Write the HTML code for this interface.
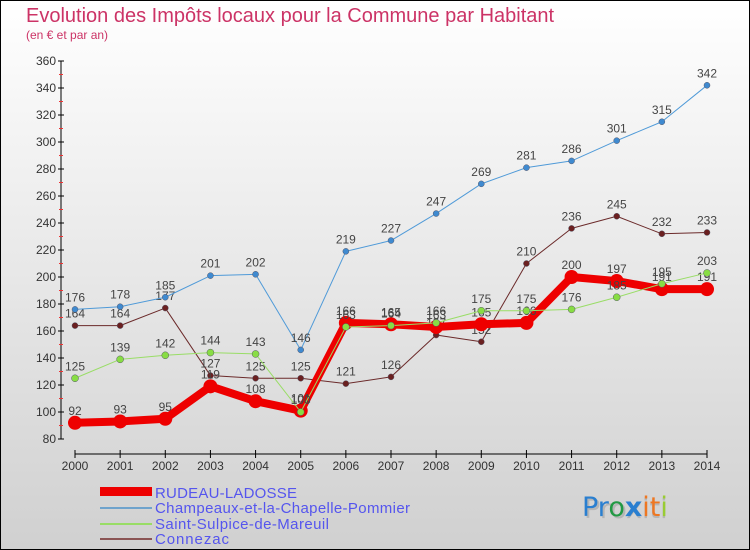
<!DOCTYPE html>
<html><head><meta charset="utf-8"><style>
body{margin:0;}
#c{width:750px;height:550px;position:relative;overflow:hidden;}
svg{display:block;font-family:"Liberation Sans","DejaVu Sans",sans-serif;}
</style></head><body>
<div id="c">
<svg id="s" width="750" height="550" xmlns="http://www.w3.org/2000/svg">
<defs><linearGradient id="bg" x1="0" y1="0" x2="0" y2="1"><stop offset="0" stop-color="#ffffff"/><stop offset="1" stop-color="#d0d0d0"/></linearGradient></defs>
<rect x="0.5" y="0.5" width="749" height="549" fill="url(#bg)" stroke="#000"/>
<text x="26" y="22" font-size="20" fill="#cc3366">Evolution des Impôts locaux pour la Commune par Habitant</text>
<text x="26" y="39" font-size="12" fill="#cc3366">(en € et par an)</text>
<g id="axes"></g><g id="series"></g>
<g>
<rect x="100" y="487" width="52" height="9" fill="#ee0000"/>
<rect x="100" y="507" width="52" height="2" fill="#6fa3cc"/>
<rect x="100" y="523" width="52" height="2" fill="#99dd66"/>
<rect x="100" y="538" width="52" height="2" fill="#8b5555"/>
<g font-size="15" fill="#5555ee">
<text x="155" y="498" textLength="142">RUDEAU-LADOSSE</text>
<text x="155" y="513" textLength="255">Champeaux-et-la-Chapelle-Pommier</text>
<text x="155" y="529" textLength="174">Saint-Sulpice-de-Mareuil</text>
<text x="155" y="544" textLength="74">Connezac</text>
</g></g>
<g font-size="27" font-family="'DejaVu Sans',sans-serif">
<text x="584" y="518" fill="#999" opacity="0.5"><tspan>Proxiti</tspan></text>
<text x="582" y="516"><tspan fill="#2a7fd0">Pr</tspan><tspan fill="#229944">o</tspan><tspan fill="#2a7fd0" font-weight="bold">x</tspan><tspan fill="#ee7722">it</tspan><tspan fill="#99cc33">i</tspan></text>
</g>
</svg></div>
<script>
const years=[2000,2001,2002,2003,2004,2005,2006,2007,2008,2009,2010,2011,2012,2013,2014];
const yTicks=[80,100,120,140,160,180,200,220,240,260,280,300,320,340,360];
const rudeau=[92,93,95,119,108,101,166,165,163,165,166,200,197,191,191];
const champeaux=[176,178,185,201,202,146,219,227,247,269,281,286,301,315,342];
const sulpice=[125,139,142,144,143,100,163,164,166,175,175,176,185,195,203];
const connezac=[164,164,177,127,125,125,121,126,157,152,210,236,245,232,233];
const NS="http://www.w3.org/2000/svg";
function X(y){return 75+(y-2000)*(707-75)/14;}
function Y(v){return 439-(v-80)*(439-61)/280;}
function mk(t,a,p){const e=document.createElementNS(NS,t);for(const k in a)e.setAttribute(k,a[k]);p.appendChild(e);return e;}
const ax=document.getElementById('axes');
let l=mk('line',{x1:61,y1:61,x2:61,y2:439,stroke:'#000','stroke-width':1},ax);


l=mk('line',{x1:75,y1:454,x2:707,y2:454,stroke:'#000','stroke-width':1},ax);


yTicks.forEach((v,i)=>{
 mk('line',{x1:58,x2:64,y1:Y(v),y2:Y(v),stroke:'#000'},ax);
 if(i<yTicks.length-1)mk('line',{x1:59,x2:63,y1:Y(v+10),y2:Y(v+10),stroke:'#e33'},ax);
 const t=mk('text',{x:56,y:Y(v)+4,'text-anchor':'end','font-size':12,fill:'#333'},ax);t.textContent=v;
 
 
});
years.forEach(y=>{
 mk('line',{x1:X(y),x2:X(y),y1:450,y2:458,stroke:'#000'},ax);
 const t=mk('text',{x:X(y),y:470,'text-anchor':'middle','font-size':12,fill:'#333'},ax);t.textContent=y;
 
 
});
const sg=document.getElementById('series');
function draw(name,data,color,w,r,fill){
 const g=mk('g',{},sg);
 
 
 const pl=mk('polyline',{points:data.map((v,i)=>X(years[i])+','+Y(v)).join(' '),fill:'none',stroke:color,'stroke-width':w,'stroke-linejoin':'round'},g);
 
 
 data.forEach((v,i)=>{
  const c=mk('circle',{cx:X(years[i]),cy:Y(v),r:r,fill:fill,stroke:fill==color?'none':'#556',"stroke-width":0.5},g);
  
  
  const t=mk('text',{x:X(years[i]),y:Y(v)-8,'text-anchor':'middle','font-size':12,fill:'#444'},g);t.textContent=v;
  
  
 });
}
draw('connezac-series',connezac,'#6b2a2a',1,3,'#6b2020');
draw('champeaux-series',champeaux,'#4f9ad8',1,3,'#3f8ad0');
draw('rudeau-series',rudeau,'#ee0000',8,7,'#ee0000');
draw('saint-sulpice-series',sulpice,'#99dd66',1,3.5,'#88dd44');
</script>
</body></html>
